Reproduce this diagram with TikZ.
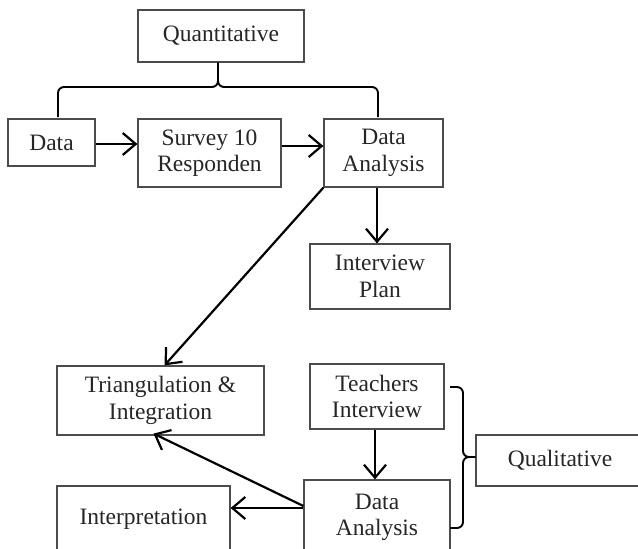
\documentclass[tikz,border=0pt]{standalone}
\usepackage{fontspec}
\setmainfont{Liberation Serif}
\usetikzlibrary{arrows.meta,calc}
\tikzset{
  boxnode/.style={draw=black!70, line width=1.2pt, inner sep=0pt, align=center,
    text=black!85, font=\fontsize{23.5}{26.5}\selectfont},
  flowarrow/.style={line width=2.2pt, -{Straight Barb[length=13pt,width=22pt,line width=2.2pt]}},
  bracepath/.style={line width=1.9pt, rounded corners=6pt}
}
\begin{document}
\begin{tikzpicture}[x=1pt,y=-1pt]
\useasboundingbox (0,0) rectangle (638,549);
% nodes
\node[boxnode, minimum width=166pt, minimum height=52pt] (quant) at (221,36) {Quantitative};
\node[boxnode, minimum width=87pt, minimum height=47pt] (data) at (51.5,142.5) {Data};
\node[boxnode, minimum width=143pt, minimum height=68pt] (survey) at (209.5,153) {Survey 10\\Responden};
\node[boxnode, minimum width=119pt, minimum height=68pt] (da1) at (383.5,153) {Data\\Analysis};
\node[boxnode, minimum width=140pt, minimum height=65pt] (ip) at (380,276.5) {Interview\\Plan};
\node[boxnode, minimum width=207pt, minimum height=69pt] (tri) at (160.5,400.5) {Triangulation \&\\Integration};
\node[boxnode, minimum width=134pt, minimum height=65pt] (teach) at (377,396.5) {Teachers\\Interview};
\node[boxnode, minimum width=168pt, minimum height=51pt] (qual) at (560,460.5) {Qualitative};
\node[boxnode, minimum width=146pt, minimum height=75pt] (da2) at (377,517.5) {Data\\Analysis};
\node[boxnode, minimum width=173pt, minimum height=66pt] (interp) at (143.5,519) {Interpretation};
% braces
\coordinate (bl) at (58,117);
\coordinate (br) at (378,117);
\coordinate (bm) at (218,87);
\draw[bracepath] (bl) |- (bm) -- (quant.south -| bm);
\draw[bracepath] (br) |- (bm) -- (quant.south -| bm);
\coordinate (rt) at (450,387);
\coordinate (rb) at (450,528);
\coordinate (rm) at (463,457);
\draw[bracepath] (rt) -| (rm) -- (qual.west |- rm);
\draw[bracepath] (rb) -| (rm) -- (qual.west |- rm);
% arrows
\draw[flowarrow] ([yshift=-1.5pt]data.east) -- ([yshift=-1.5pt]data.east -| survey.west);
\draw[flowarrow] ([yshift=7pt]survey.east) -- ([yshift=7pt]survey.east -| da1.west);
\draw[flowarrow] ([xshift=-3pt]ip.north |- da1.south) -- ([xshift=-3pt]ip.north);
\draw[flowarrow] (da1.south west) -- ([xshift=4pt]tri.north);
\draw[flowarrow] ([xshift=-2pt]teach.south) -- ([xshift=-2pt]teach.south |- da2.north);
\draw[flowarrow] ([yshift=11.5pt]da2.west) -- ([xshift=-7pt,yshift=2pt]tri.south);
\draw[flowarrow] ([yshift=9.5pt]da2.west) -- ([yshift=9.5pt]da2.west -| interp.east);
\end{tikzpicture}
\end{document}
